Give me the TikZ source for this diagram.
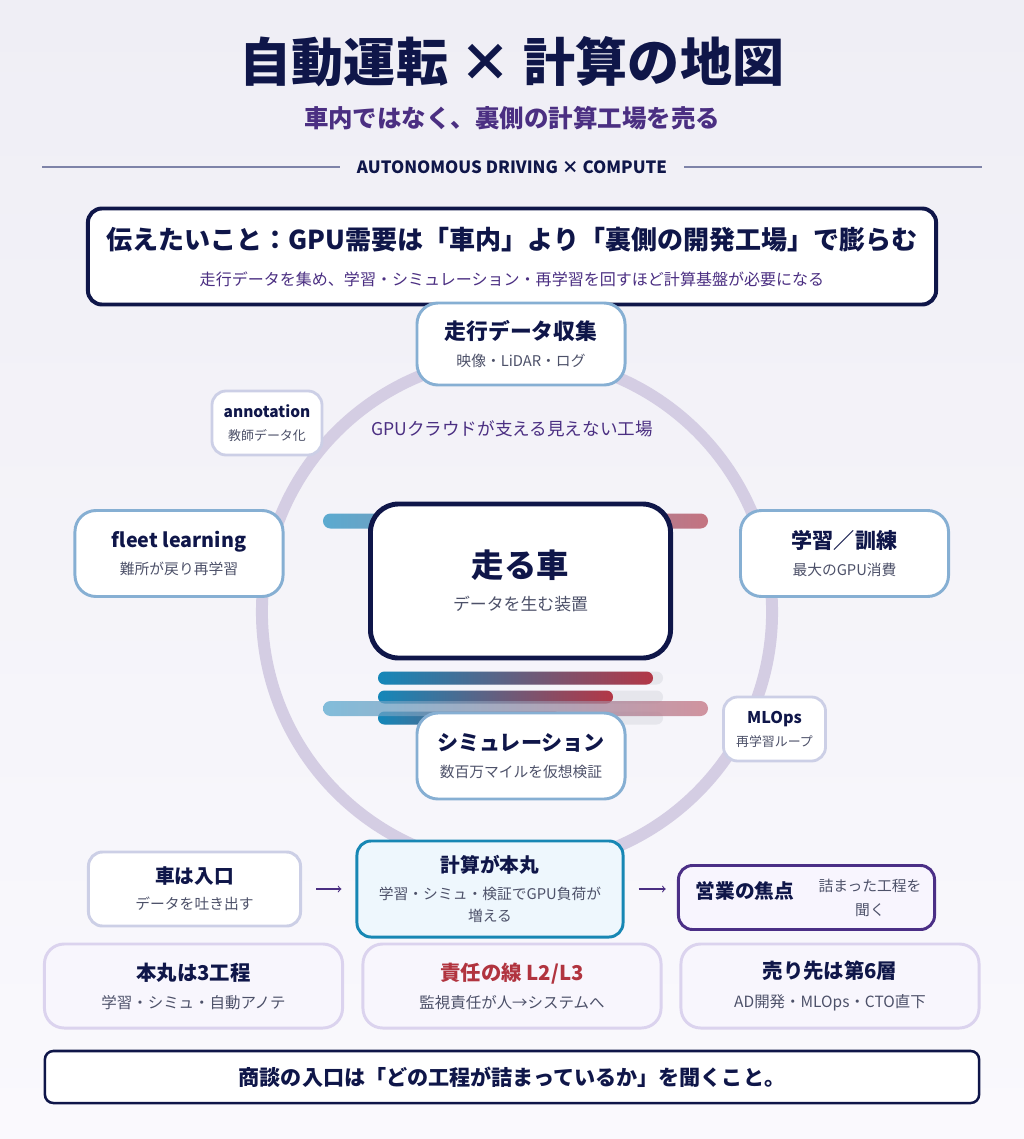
\documentclass[tikz,border=0pt]{standalone}
\usepackage{fontspec}
\setmainfont{Noto Sans CJK JP}
\usepackage{tikz}
\usetikzlibrary{positioning}
\usetikzlibrary{arrows}

\definecolor{navy}{HTML}{0F1649}
\definecolor{plum}{HTML}{4B2F82}
\definecolor{slate}{HTML}{4D5169}
\definecolor{ringblue}{HTML}{86AFD3}
\definecolor{softline}{HTML}{CCCFE6}
\definecolor{haze}{HTML}{D4CDE3}
\definecolor{tealline}{HTML}{1787B4}
\definecolor{tealfog}{HTML}{EEF7FD}
\definecolor{violetline}{HTML}{4B2F86}
\definecolor{violetfog}{HTML}{F8F5FE}
\definecolor{cardline}{HTML}{DBD3EE}
\definecolor{cardfog}{HTML}{F8F6FD}
\definecolor{brick}{HTML}{B1343F}
\definecolor{ruleline}{HTML}{7E83A8}
\definecolor{track}{HTML}{E6E6EC}
\definecolor{barA}{HTML}{1487B9}
\definecolor{barB}{HTML}{522C82}
\definecolor{barC}{HTML}{B33746}
\definecolor{skyA}{HTML}{5BAAD0}
\definecolor{roseA}{HTML}{C47381}
\definecolor{bgtop}{HTML}{EFEEF5}
\definecolor{bgbot}{HTML}{FAF9FD}

\begin{document}
\begin{tikzpicture}[
            x = 0.025cm, y = -0.025cm, % one unit is one pixel
            > = to, % arrow head style
            ringbox/.style = {draw=ringblue, line width=2.1pt, fill=white, rounded corners=15pt,
                              minimum width=5.2cm, minimum height=2.05cm, align=center,
                              text=slate, font=\fontsize{10.5}{19}\selectfont},
            tagbox/.style = {draw=softline, line width=2pt, fill=white, rounded corners=10pt,
                             minimum height=1.6cm, align=center,
                             text=slate, font=\fontsize{9.2}{16.5}\selectfont},
            flowbox/.style = {line width=2.1pt, rounded corners=10pt, align=center,
                              text=slate, font=\fontsize{10.5}{18.5}\selectfont},
            card/.style = {draw=cardline, line width=2.1pt, fill=cardfog, rounded corners=14pt,
                           minimum width=7.45cm, minimum height=2.1cm, align=center,
                           text=slate, font=\fontsize{11}{20}\selectfont},
            flow/.style = {->, draw=plum, line width=0.8pt}
        ]

        % page
        \shade[top color=bgtop, bottom color=bgbot] (0,0) rectangle (1024,1139);
        \useasboundingbox (0,0) rectangle (1024,1139);

        % heading
        \node[text=navy, font=\fontsize{37}{40}\selectfont\bfseries] (title) at (512,62) {自動運転 × 計算の地図};
        \node[text=plum, font=\fontsize{17.4}{20}\selectfont\bfseries] (subtitle) at (512,118) {車内ではなく、裏側の計算工場を売る};
        \node[text=navy, font=\fontsize{12}{14}\selectfont\bfseries, inner xsep=12pt] (tag) at (512,167) {AUTONOMOUS DRIVING × COMPUTE};
        \coordinate (ruleL) at (42,167);
        \coordinate (ruleR) at (982,167);
        \draw[ruleline, line width=1.4pt] (ruleL) -- (tag) (tag) -- (ruleR);

        \node[draw=navy, line width=2.8pt, fill=white, rounded corners=10pt, minimum width=21.2cm,
              minimum height=2.4cm, align=center, text=plum, font=\fontsize{11.4}{25.6}\selectfont] (message) at (512,256.5)
            {{\fontsize{18.5}{25.6}\selectfont\bfseries\color{navy}伝えたいこと：GPU需要は「車内」より「裏側の開発工場」で膨らむ}\\
             走行データを集め、学習・シミュレーション・再学習を回すほど計算基盤が必要になる};

        % the loop
        \draw[haze, line width=8.5pt] (517,612) circle[radius=6.375cm];
        \node[text=plum, font=\fontsize{12.5}{15}\selectfont] (factory) at (512,429) {GPUクラウドが支える見えない工場};

        \shade[left color=skyA, right color=roseA, rounded corners=5.3pt] (323,513.5) rectangle (708,528.5);
        \foreach \yy/\xe in {678/653, 697/613, 718/561} {
            \fill[track, rounded corners=4.6pt] (378,\yy-6.5) rectangle (663,\yy+6.5);
            \shade[left color=barA, middle color=barB, right color=barC, rounded corners=4.6pt] (378,\yy-6.5) rectangle (\xe,\yy+6.5);
        }
        \shade[left color=skyA, right color=roseA, rounded corners=5.3pt, opacity=0.75] (323,701) rectangle (708,716);

        \node[draw=navy, line width=3.5pt, fill=white, rounded corners=20pt, minimum width=7.5cm,
              minimum height=3.85cm, align=center, text=slate, font=\fontsize{12}{23.5}\selectfont] (car) at (520.5,581)
            {{\fontsize{23}{23.5}\selectfont\bfseries\color{navy}走る車}\\データを生む装置};

        \node[ringbox] (collect) at (521,344) {{\fontsize{15.5}{19}\selectfont\bfseries\color{navy}走行データ収集}\\映像・LiDAR・ログ};
        \node[ringbox, minimum height=2.15cm] (fleet) at (179,553.5) {{\fontsize{14}{19}\selectfont\bfseries\color{navy}fleet learning}\\難所が戻り再学習};
        \node[ringbox, minimum height=2.15cm] (train) at (844.5,553.5) {{\fontsize{15}{19}\selectfont\bfseries\color{navy}学習／訓練}\\最大のGPU消費};
        \node[ringbox, minimum height=2.15cm] (sim) at (521,756) {{\fontsize{15}{19}\selectfont\bfseries\color{navy}シミュレーション}\\数百万マイルを仮想検証};
        \node[tagbox, minimum width=2.75cm] (annot) at (267,423) {{\fontsize{11}{16.5}\selectfont\bfseries\color{navy}annotation}\\教師データ化};
        \node[tagbox, minimum width=2.55cm] (mlops) at (774.5,729) {{\fontsize{11.5}{16.5}\selectfont\bfseries\color{navy}MLOps}\\再学習ループ};

        % flow row
        \node[flowbox, draw=softline, fill=white, minimum width=5.3cm, minimum height=1.85cm] (entry) at (194.5,889)
            {{\fontsize{14}{18.5}\selectfont\bfseries\color{navy}車は入口}\\データを吐き出す};
        \node[flowbox, draw=tealline, fill=tealfog, minimum width=6.65cm, minimum height=2.4cm,
              font=\fontsize{10.5}{15.6}\selectfont] (core) at (490,889)
            {{\fontsize{14}{15.6}\selectfont\bfseries\color{navy}計算が本丸}\\[4pt]学習・シミュ・検証でGPU負荷が\\増える};
        \node[flowbox, draw=violetline, fill=violetfog, minimum width=6.4cm, minimum height=1.6cm] (focus) at (806.5,897.5) {};
        \node[text=navy, font=\fontsize{14}{17}\selectfont\bfseries] (focusT) at (745,891) {営業の焦点};
        \node[text=slate, align=center, font=\fontsize{10.5}{17}\selectfont] (focusS) at (870,898) {詰まった工程を\\聞く};

        \draw[flow, shorten <=10pt, shorten >=10pt] (entry) -- (core);
        \draw[flow, shorten <=10pt, shorten >=8pt] (core) -- (focus.west |- core);

        % cards
        \node[card] (steps) at (193.5,986) {{\fontsize{14.5}{20}\selectfont\bfseries\color{navy}本丸は3工程}\\学習・シミュ・自動アノテ};
        \node[card] (liability) at (512,986) {{\fontsize{14.5}{20}\selectfont\bfseries\color{brick}責任の線 L2/L3}\\監視責任が人→システムへ};
        \node[card] (buyer) at (830,986) {{\fontsize{14.5}{20}\selectfont\bfseries\color{navy}売り先は第6層}\\AD開発・MLOps・CTO直下};

        \node[draw=navy, line width=1.8pt, fill=white, rounded corners=6pt, minimum width=23.35cm,
              minimum height=1.3cm, text=navy, font=\fontsize{15}{18}\selectfont\bfseries] (close) at (512,1077)
            {商談の入口は「どの工程が詰まっているか」を聞くこと。};

  \end{tikzpicture}
\end{document}
